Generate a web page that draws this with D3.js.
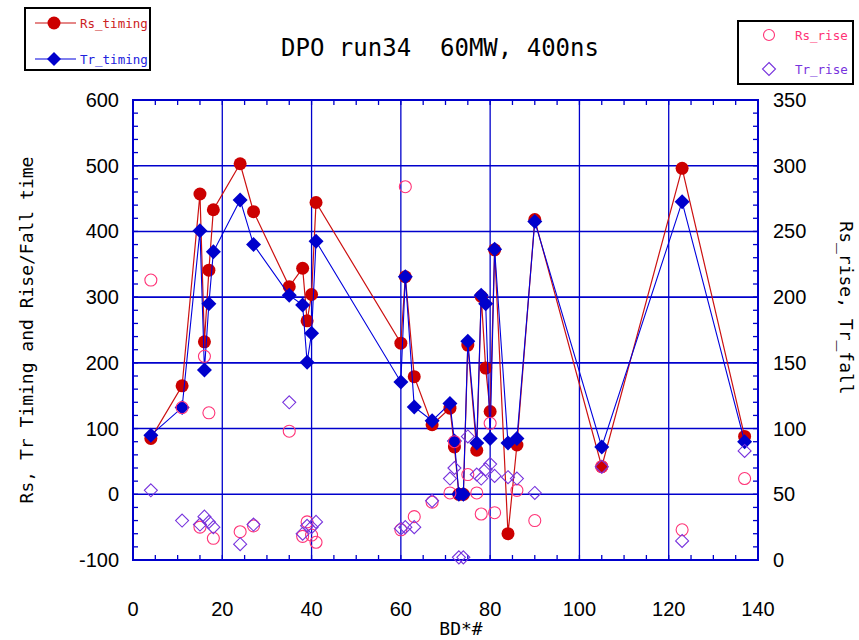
<!DOCTYPE html>
<html><head><meta charset="utf-8">
<script src="https://cdn.jsdelivr.net/npm/d3@7"></script>
<style>body{margin:0;background:#fff}svg{display:block}</style>
</head><body>
<svg id="c" width="859" height="640"></svg>
<script>
const bd = [4,11,15,16,17,18,24,27,35,38,39,40,41,60,61,63,67,71,72,73,74,75,77,78,79,80,81,84,86,90,105,123,137];
const rsTiming = [85,165,457,232,341,433,503,430,316,344,264,304,444,230,331,179,106,131,72,0,0,227,67,301,192,126,372,-60,75,418,42,496,88];
const trTiming = [90,132,401,189,290,369,448,380,303,288,201,245,385,171,331,133,112,138,81,0,0,233,78,303,290,85,373,78,85,415,72,445,80];
const rsRise = [213,116,25,155,112,16.5,21.5,26,98,18,29,19,13.5,23,284,33,44,51,90,null,null,65,51,35,null,104,36,null,53,30,71,23,62];
const trRise = [53,30,27,33,29,25,12,27,120,20,26,25,29,24,25,25,45,62,70,2,2,94,65,62,69,73,64,63,62,51,71,14.5,83];
const xTicks = [0,20,40,60,80,100,120,140];
const yLeftTicks = [-100,0,100,200,300,400,500,600];
const yRightTicks = [0,50,100,150,200,250,300,350];

const svg = d3.select('#c');
const x = d3.scaleLinear([0,140],[133,758]);
const yL = d3.scaleLinear([-100,600],[560,100]);
const yR = d3.scaleLinear([0,350],[560,100]);
const GRID = '#0000cc';
const mono = '"DejaVu Sans Mono", monospace';
const sans = '"Liberation Sans", Arial, sans-serif';

// grid
const g = svg.append('g');
g.selectAll('.vg').data(xTicks.slice(1,-1)).join('line')
  .attr('x1',d=>x(d)).attr('x2',d=>x(d)).attr('y1',yL(600)).attr('y2',yL(-100))
  .attr('stroke',GRID).attr('stroke-width',1.3);
g.selectAll('.hg').data(yLeftTicks.slice(1,-1)).join('line')
  .attr('x1',x(0)).attr('x2',x(140)).attr('y1',d=>yL(d)).attr('y2',d=>yL(d))
  .attr('stroke',GRID).attr('stroke-width',1.6);

// minor ticks
const tl = 5;
const xm = d3.range(0,141,5);
g.selectAll('.xb').data(xm).join('line').attr('x1',d=>x(d)).attr('x2',d=>x(d))
  .attr('y1',yL(-100)).attr('y2',yL(-100)-tl).attr('stroke',GRID).attr('stroke-width',1.3);
g.selectAll('.xt').data(xm).join('line').attr('x1',d=>x(d)).attr('x2',d=>x(d))
  .attr('y1',yL(600)).attr('y2',yL(600)+tl).attr('stroke',GRID).attr('stroke-width',1.3);
g.selectAll('.yl').data(d3.range(-100,601,20)).join('line').attr('x1',x(0)).attr('x2',x(0)+tl)
  .attr('y1',d=>yL(d)).attr('y2',d=>yL(d)).attr('stroke',GRID).attr('stroke-width',1.3);
g.selectAll('.yr').data(d3.range(0,351,10)).join('line').attr('x1',x(140)).attr('x2',x(140)-tl)
  .attr('y1',d=>yR(d)).attr('y2',d=>yR(d)).attr('stroke',GRID).attr('stroke-width',1.3);

// frame
g.append('rect').attr('x',x(0)).attr('y',yL(600)).attr('width',x(140)-x(0)).attr('height',yL(-100)-yL(600))
  .attr('fill','none').attr('stroke',GRID).attr('stroke-width',2);

// tick labels
svg.selectAll('.xl').data(xTicks).join('text').attr('x',d=>x(d)).attr('y',616)
  .attr('text-anchor','middle').attr('font-family',sans).attr('font-size',20).attr('fill','#000').text(d=>d);
svg.selectAll('.yll').data(yLeftTicks).join('text').attr('x',119).attr('y',d=>yL(d)+7)
  .attr('text-anchor','end').attr('font-family',sans).attr('font-size',20).attr('fill','#000').text(d=>d);
svg.selectAll('.yrl').data(yRightTicks).join('text').attr('x',773).attr('y',d=>yR(d)+7)
  .attr('text-anchor','start').attr('font-family',sans).attr('font-size',20).attr('fill','#000').text(d=>d);

// titles
svg.append('text').attr('x',440).attr('y',56).attr('text-anchor','middle').attr('font-family',mono)
  .attr('font-size',24).attr('fill','#000').attr('xml:space','preserve').style('white-space','pre').text('DPO run34  60MW, 400ns');
svg.append('text').attr('transform','translate(33,330) rotate(-90)').attr('text-anchor','middle')
  .attr('font-family',mono).attr('font-size',18).attr('fill','#000').text('Rs, Tr Timing and Rise/Fall time');
svg.append('text').attr('transform','translate(840,308) rotate(90)').attr('text-anchor','middle')
  .attr('font-family',mono).attr('font-size',18).attr('fill','#000').text('Rs_rise, Tr_fall');
svg.append('text').attr('x',461).attr('y',635).attr('text-anchor','middle')
  .attr('font-family',mono).attr('font-size',18).attr('fill','#000').text('BD*#');

// series
const RED='#cc0000', BLUE='#0000cc', PINK='#ff3377', PURP='#7733dd';
const pts = (ys)=>bd.map((b,i)=>[b,ys[i]]);
const lineL = d3.line().x(d=>x(d[0])).y(d=>yL(d[1]));
const diamond = (s)=>d3.symbol(d3.symbolDiamond2? d3.symbolSquare : d3.symbolSquare, s)();

const plot = svg.append('g');
plot.append('path').attr('d',lineL(pts(rsTiming))).attr('fill','none').attr('stroke','#cc1111').attr('stroke-width',1.2);
plot.selectAll('.rs').data(pts(rsTiming)).join('circle').attr('cx',d=>x(d[0])).attr('cy',d=>yL(d[1]))
  .attr('r',6.5).attr('fill',RED);
plot.append('path').attr('d',lineL(pts(trTiming))).attr('fill','none').attr('stroke','#0000dd').attr('stroke-width',1.1);
const dia = (cx,cy,h)=>`M${cx},${cy-h}L${cx+h},${cy}L${cx},${cy+h}L${cx-h},${cy}Z`;
plot.selectAll('.tr').data(pts(trTiming)).join('path').attr('d',d=>dia(x(d[0]),yL(d[1]),7.5)).attr('fill',BLUE);

plot.selectAll('.rr').data(pts(rsRise).filter(d=>d[1]!=null)).join('circle').attr('cx',d=>x(d[0])).attr('cy',d=>yR(d[1]))
  .attr('r',6).attr('fill','none').attr('stroke',PINK).attr('stroke-width',1.1);
plot.selectAll('.trr').data(pts(trRise)).join('path').attr('d',d=>dia(x(d[0]),yR(d[1]),6.5))
  .attr('fill','none').attr('stroke',PURP).attr('stroke-width',1.1);

// legend left
const L = svg.append('g');
L.append('rect').attr('x',25).attr('y',8).attr('width',125).attr('height',62).attr('fill','#fff').attr('stroke','#000').attr('stroke-width',2);
L.append('line').attr('x1',35).attr('x2',76).attr('y1',23).attr('y2',23).attr('stroke','#cc1111').attr('stroke-width',1.2);
L.append('circle').attr('cx',54).attr('cy',23).attr('r',6.5).attr('fill',RED);
L.append('text').attr('x',80).attr('y',28).attr('font-family',mono).attr('font-size',12.5).attr('fill','#cc2222').text('Rs_timing');
L.append('line').attr('x1',35).attr('x2',76).attr('y1',59).attr('y2',59).attr('stroke','#0000dd').attr('stroke-width',1.1);
L.append('path').attr('d',dia(54,59,7)).attr('fill',BLUE);
L.append('text').attr('x',80).attr('y',64).attr('font-family',mono).attr('font-size',12.5).attr('fill','#2222dd').text('Tr_timing');

// legend right
const R = svg.append('g');
R.append('rect').attr('x',738).attr('y',21).attr('width',115).attr('height',63).attr('fill','#fff').attr('stroke','#000').attr('stroke-width',2);
R.append('circle').attr('cx',769).attr('cy',35).attr('r',5.5).attr('fill','none').attr('stroke',PINK).attr('stroke-width',1.1);
R.append('text').attr('x',795).attr('y',40).attr('font-family',mono).attr('font-size',12.5).attr('fill',PINK).text('Rs_rise');
R.append('path').attr('d',dia(769,69,6.5)).attr('fill','none').attr('stroke',PURP).attr('stroke-width',1.1);
R.append('text').attr('x',795).attr('y',74).attr('font-family',mono).attr('font-size',12.5).attr('fill',PURP).text('Tr_rise');
</script>
</body></html>
